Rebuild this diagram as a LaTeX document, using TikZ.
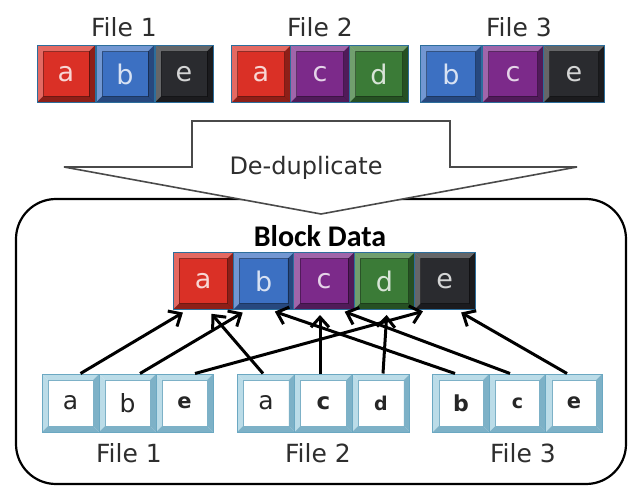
\documentclass[tikz,border=0pt]{standalone}
\usepackage{fontspec}
\setmainfont{DejaVu Sans}
\newfontfamily\blockfont{Carlito}
\usetikzlibrary{arrows.meta,calc}

\definecolor{keyred}{HTML}{DA3026}
\definecolor{keyblue}{HTML}{3C70C2}
\definecolor{keypurple}{HTML}{7C2A8A}
\definecolor{keygreen}{HTML}{3B7B37}
\definecolor{keydark}{HTML}{2A2B2F}
\definecolor{keyrim}{HTML}{2C6E9C}
\definecolor{plainrim}{HTML}{6BA8C2}
\definecolor{plainbevel}{HTML}{BBDCE8}
\definecolor{plainshade}{HTML}{7DB1C7}
\definecolor{labelgray}{HTML}{2E2E2E}
\definecolor{arrowgray}{HTML}{4A4A4A}

\tikzset{
  % bevelled key face: #1 bevel depth, #2 light bevel, #3 dark bevel
  bevelled/.style n args={3}{path picture={
    \coordinate (kNW) at (path picture bounding box.north west);
    \coordinate (kNE) at (path picture bounding box.north east);
    \coordinate (kSW) at (path picture bounding box.south west);
    \coordinate (kSE) at (path picture bounding box.south east);
    \fill[#2] (kNW) -- (kNE) -- ($(kNE)+(-#1,-#1)$) -- ($(kNW)+(#1,-#1)$) -- cycle;
    \fill[#2] (kNW) -- (kSW) -- ($(kSW)+(#1,#1)$) -- ($(kNW)+(#1,-#1)$) -- cycle;
    \fill[#3] (kNE) -- (kSE) -- ($(kSE)+(-#1,#1)$) -- ($(kNE)+(-#1,-#1)$) -- cycle;
    \fill[#3] (kSW) -- (kSE) -- ($(kSE)+(-#1,#1)$) -- ($(kSW)+(#1,#1)$) -- cycle;
    \draw[#3, line width=.6pt] ($(kNW)+(#1,-#1)$) rectangle ($(kSE)+(-#1,#1)$);
  }},
  colkey/.style={draw=keyrim, line width=1pt, fill=#1, minimum width=58pt,
    minimum height=57pt, inner sep=0pt, text=#1!20!white,
    font=\fontsize{27}{27}\selectfont,
    bevelled={6pt}{white,opacity=.28}{black,opacity=.35}},
  plainkey/.style={draw=plainrim, line width=1pt, fill=white, minimum width=57pt,
    minimum height=58pt, inner sep=0pt, text=black!85,
    font=\fontsize{#1}{#1}\selectfont,
    bevelled={6pt}{plainbevel}{plainshade}},
  plainkey/.default=25,
  filelabel/.style={text=labelgray, font=\fontsize{25}{25}\selectfont},
  link/.style={line width=3pt, -{Straight Barb[length=10pt,width=18pt]},
    shorten >=5pt},
}

\begin{document}
\begin{tikzpicture}[x=1pt,y=-1pt]
\useasboundingbox (0,0) rectangle (629,486);

% storage box holding the block data
\draw[line width=2.2pt, rounded corners=40pt] (16,199) rectangle (626,484);

% de-duplication arrow
\draw[line width=1.6pt, draw=arrowgray, fill=white, line join=miter]
  (192,121) -- (450,121) -- (450,167) -- (577,167) -- (321,214)
  -- (64,167) -- (192,167) -- cycle;
\node[text=labelgray, font=\fontsize{24}{24}\selectfont] (dedup) at (306,168) {De-duplicate};

% source files
\node[filelabel] (top1) at (124,27) {File 1};
\node[filelabel] (top2) at (320,27) {File 2};
\node[filelabel] (top3) at (519,27) {File 3};

\node[colkey=keyred]  (t1a) at (66,74)  {a};
\node[colkey=keyblue] (t1b) at (125,74) {b};
\node[colkey=keydark] (t1e) at (184,74) {e};

\node[colkey=keyred,    minimum width=59pt] (t2a) at (261,74) {a};
\node[colkey=keypurple, minimum width=59pt] (t2c) at (320,74) {c};
\node[colkey=keygreen,  minimum width=59pt] (t2d) at (379,74) {d};

\node[colkey=keyblue,   minimum width=61pt] (t3b) at (451,74) {b};
\node[colkey=keypurple, minimum width=61pt] (t3c) at (513,74) {c};
\node[colkey=keydark,   minimum width=61pt] (t3e) at (574,74) {e};

% unique blocks
\node[font=\blockfont\bfseries\fontsize{30}{30}\selectfont] (bdl) at (320,236) {Block Data};
\node[colkey=keyred,    minimum width=60.4pt] (da) at (203.2,281) {a};
\node[colkey=keyblue,   minimum width=60.4pt] (db) at (263.6,281) {b};
\node[colkey=keypurple, minimum width=60.4pt] (dc) at (324,281)   {c};
\node[colkey=keygreen,  minimum width=60.4pt] (dd) at (384.4,281) {d};
\node[colkey=keydark,   minimum width=60.4pt] (de) at (444.8,281) {e};

% files as references to blocks
\node[plainkey] (b1a) at (70.5,403) {a};
\node[plainkey] (b1b) at (127.5,403) {b};
\node[plainkey=21] (b1e) at (184.5,403) {\bfseries e};

\node[plainkey, minimum width=57.7pt] (b2a) at (266,403) {a};
\node[plainkey=23, minimum width=57.7pt] (b2c) at (323.5,403) {\bfseries c};
\node[plainkey=19, minimum width=57.7pt] (b2d) at (381,403) {\bfseries d};

\node[plainkey=22, minimum width=56.3pt] (b3b) at (461,403) {\bfseries b};
\node[plainkey=19, minimum width=56.3pt] (b3c) at (517.5,403) {\bfseries c};
\node[plainkey=21, minimum width=56.3pt] (b3e) at (574,403) {\bfseries e};

\node[filelabel] (bot1) at (129,453) {File 1};
\node[filelabel] (bot2) at (318,453) {File 2};
\node[filelabel] (bot3) at (523,453) {File 3};

% references
\draw[link] ([xshift=10pt]b1a.north) -- ([xshift=-16pt]da.south);
\draw[link] ([xshift=12.5pt]b1b.north) -- ([xshift=-16.6pt]db.south);
\draw[link] ([xshift=10.5pt]b1e.north) -- ([xshift=-17pt]de.south);
\draw[link] ([xshift=-3pt]b2a.north) -- ([xshift=5pt]da.south);
\draw[link] ([xshift=-3.5pt]b2c.north) -- ([xshift=-4pt]dc.south);
\draw[link] ([xshift=2pt]b2d.north) -- ([xshift=2.6pt]dd.south);
\draw[link] ([xshift=-6pt]b3b.north) -- ([xshift=6.5pt]db.south);
\draw[link] ([xshift=-7.5pt]b3c.north) -- ([xshift=16pt]dc.south);
\draw[link] ([xshift=-7pt]b3e.north) -- ([xshift=12pt]de.south);
\end{tikzpicture}
\end{document}
